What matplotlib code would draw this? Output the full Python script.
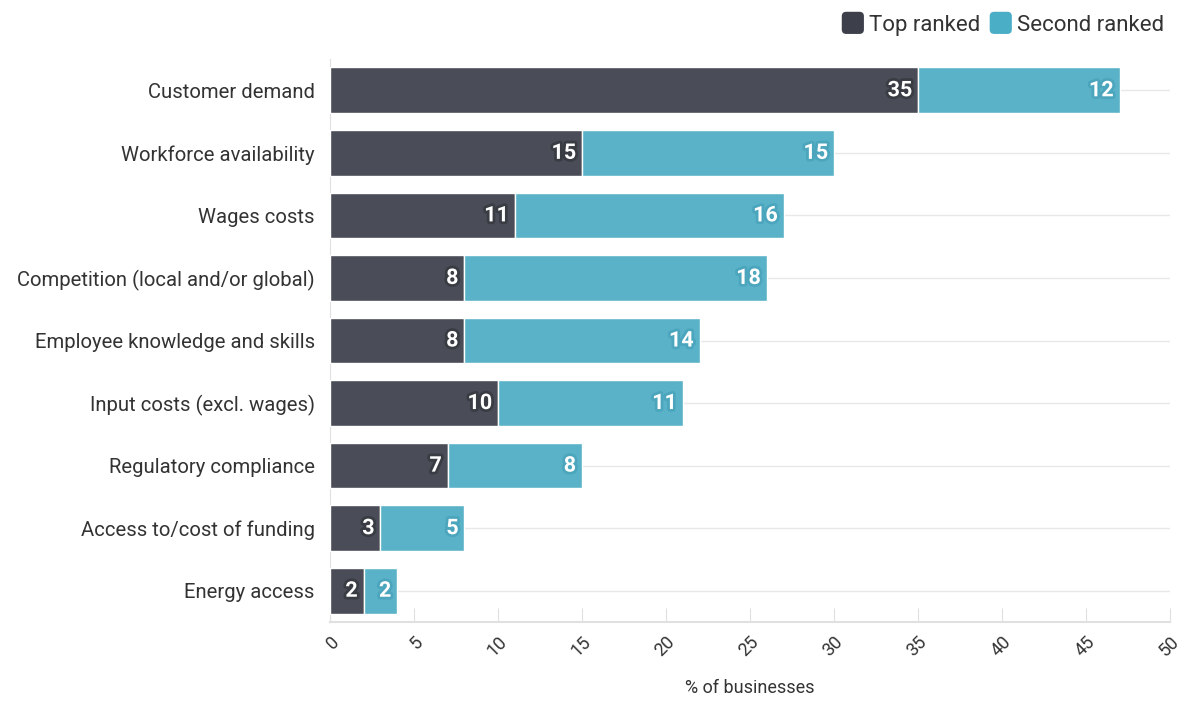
import matplotlib
matplotlib.use("Agg")
import matplotlib.pyplot as plt
import matplotlib.patheffects as pe
from matplotlib.patches import FancyBboxPatch
from matplotlib.legend_handler import HandlerPatch

categories = ["Customer demand", "Workforce availability", "Wages costs",
              "Competition (local and/or global)", "Employee knowledge and skills",
              "Input costs (excl. wages)", "Regulatory compliance",
              "Access to/cost of funding", "Energy access"]
top_ranked = [35, 15, 11, 8, 8, 10, 7, 3, 2]
second_ranked = [12, 15, 16, 18, 14, 11, 8, 5, 2]
series_names = ["Top ranked", "Second ranked"]
xticks = [0, 5, 10, 15, 20, 25, 30, 35, 40, 45, 50]

c_top = "#4a4d57"
c_sec = "#5ab2c8"
c_top_leg = "#3d404a"
c_sec_leg = "#4aaec6"
text_c = "#333333"

plt.rcParams['font.family'] = ['Roboto', 'DejaVu Sans']

fig = plt.figure(figsize=(11.87, 7.02), dpi=100)
W, H = 1187, 702
ax = fig.add_axes([330 / W, 1 - 622 / H, 840 / W, 563 / H])

y = list(range(len(categories)))
bh = 0.73
ax.barh(y, top_ranked, height=bh, color=c_top, edgecolor="white", linewidth=1, zorder=3)
ax.barh(y, second_ranked, left=top_ranked, height=bh, color=c_sec, edgecolor="white",
        linewidth=1, zorder=3)

outline_top = [pe.withStroke(linewidth=4, foreground="#3a3c44")]
outline_sec = [pe.withStroke(linewidth=4, foreground="#4ba6bd")]
for i in y:
    ax.text(top_ranked[i] - 0.35, i, str(top_ranked[i]), ha="right", va="center",
            color="white", fontsize=15.5, fontweight="bold", path_effects=outline_top,
            zorder=5)
    ax.text(top_ranked[i] + second_ranked[i] - 0.35, i, str(second_ranked[i]),
            ha="right", va="center", color="white", fontsize=15.5, fontweight="bold",
            path_effects=outline_sec, zorder=5)

ax.set_ylim(len(categories) - 0.5, -0.5)
ax.set_xlim(0, 50)
ax.set_yticks(y)
ax.set_yticklabels(categories, fontsize=14.6, color=text_c)
ax.tick_params(axis="y", length=0, pad=11)
ax.set_xticks(xticks)
ax.set_xticklabels([str(t) for t in xticks], rotation=45, ha="right",
                   rotation_mode="anchor", fontsize=13, color=text_c)
ax.tick_params(axis="x", direction="in", length=10, color="#e0e0e0", pad=8)

ax.grid(axis="y", color="#e8e8e8", linewidth=1, zorder=0)
ax.grid(axis="x", visible=False)
for s in ["top", "right"]:
    ax.spines[s].set_visible(False)
ax.spines["left"].set_color("#e0e0e0")
ax.spines["bottom"].set_color("#e0e0e0")
ax.spines["bottom"].set_linewidth(1.5)

fig.text(750 / W, 1 - 688 / H, "% of businesses", ha="center", va="center",
         fontsize=13, color=text_c)


class RoundHandler(HandlerPatch):
    def create_artists(self, legend, orig_handle, xdescent, ydescent, width, height,
                       fontsize, trans):
        s = height * 1.25
        p = FancyBboxPatch((xdescent + (width - s) / 2, -ydescent + (height - s) / 2),
                           s, s, boxstyle="round,pad=0,rounding_size=%f" % (s * 0.2),
                           facecolor=orig_handle.get_facecolor(), edgecolor="none",
                           transform=trans)
        return [p]


h1 = plt.Rectangle((0, 0), 1, 1, facecolor=c_top_leg)
h2 = plt.Rectangle((0, 0), 1, 1, facecolor=c_sec_leg)
fig.legend([h1, h2], series_names, loc="upper right",
           bbox_to_anchor=(1184 / W, 1 + 6 / H), ncol=2, frameon=False,
           fontsize=16, handlelength=0.85, handleheight=0.85, handletextpad=0.3,
           columnspacing=0.5, labelcolor=text_c,
           handler_map={plt.Rectangle: RoundHandler()})

fig.savefig("out.png", dpi=100)
